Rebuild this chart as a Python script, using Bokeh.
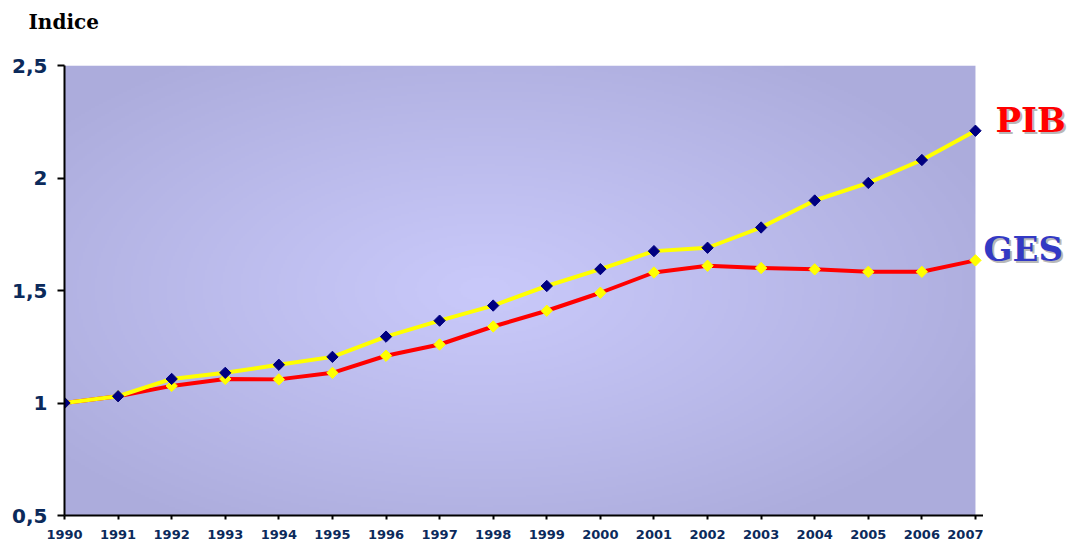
import numpy as np
from bokeh.plotting import figure
from bokeh.layouts import row, column
from bokeh.models import FixedTicker, Range1d
from bokeh.core.properties import value
from bokeh.embed import file_html
from bokeh.resources import INLINE

# ---- data ----
years = list(range(1990, 2008))
pib = [1.00, 1.03, 1.107, 1.134, 1.17, 1.205, 1.295, 1.366, 1.433, 1.52,
       1.595, 1.675, 1.69, 1.78, 1.90, 1.978, 2.08, 2.21]
ges = [1.00, 1.03, 1.076, 1.107, 1.105, 1.134, 1.21, 1.26, 1.34, 1.41,
       1.49, 1.58, 1.61, 1.60, 1.594, 1.583, 1.583, 1.634]
y_ticks = [0.5, 1, 1.5, 2, 2.5]
y_tick_labels = ["0,5", "1", "1,5", "2", "2,5"]
x_tick_labels = [str(y) for y in years]
series_names = ["PIB", "GES"]
series_label_colors = ["#FF0000", "#3339C4"]
y_title = "Indice"

NAVY = "#0B2A5B"
HEAD = 44
TOP, BOTTOM = 65 - HEAD, 30
H = 545 - HEAD
W_MAIN, W_SIDE = 983, 84


def bare(fig):
    fig.axis.visible = False
    fig.grid.visible = False
    fig.outline_line_color = None
    fig.background_fill_color = "white"
    fig.border_fill_color = "white"


# ---- header with "Indice" ----
head = figure(width=W_MAIN + W_SIDE, height=HEAD, output_backend="svg",
              toolbar_location=None, x_range=Range1d(0, W_MAIN + W_SIDE),
              y_range=Range1d(0, HEAD), min_border=0)
bare(head)
head.text(x=[28], y=[HEAD - 21], text=[y_title], text_font=value("DejaVu Serif"),
          text_font_style="bold", text_font_size="20px", text_color="black",
          text_baseline="middle")

# ---- main plot ----
yr = Range1d(y_ticks[0], y_ticks[-1])
p = figure(width=W_MAIN, height=H, output_backend="svg", toolbar_location=None,
           x_range=Range1d(years[0], years[-1] + 0.15), y_range=yr,
           min_border_left=64, min_border_right=0,
           min_border_top=TOP, min_border_bottom=BOTTOM)
p.grid.visible = False
p.outline_line_color = None
p.background_fill_color = "white"
p.border_fill_color = "white"

# radial gradient background (plot area)
ny, nx = 225, 456
yy, xx = np.mgrid[0:ny, 0:nx]
cx, cy = 0.46 * nx, 0.5 * ny
d = np.sqrt(((xx - cx) / (nx * 0.6)) ** 2 + ((yy - cy) / (ny * 0.62)) ** 2)
d = np.clip(d, 0, 1) ** 1.1
center = np.array([201, 201, 250])
edge = np.array([172, 172, 220])
img = np.empty((ny, nx), dtype=np.uint32)
view = img.view(dtype=np.uint8).reshape((ny, nx, 4))
for k in range(3):
    view[:, :, k] = (center[k] * (1 - d) + edge[k] * d).astype(np.uint8)
view[:, :, 3] = 255
p.image_rgba(image=[img], x=years[0], y=y_ticks[0],
             dw=years[-1] - years[0], dh=y_ticks[-1] - y_ticks[0])

# series
p.line(years, ges, line_color="#FF0000", line_width=4)
p.scatter(years, ges, marker="square", angle=np.pi / 4, size=8,
          fill_color="#FFFF00", line_color="#FFFF00")
p.line(years, pib, line_color="#FFFF00", line_width=4)
p.scatter(years, pib, marker="square", angle=np.pi / 4, size=8,
          fill_color="#000080", line_color="#000080")

# axes
p.yaxis.ticker = FixedTicker(ticks=y_ticks)
p.yaxis.major_label_overrides = {t: l for t, l in zip(y_ticks, y_tick_labels)}
p.yaxis.major_label_text_font = "DejaVu Sans"
p.yaxis.major_label_text_font_style = "bold"
p.yaxis.major_label_text_font_size = "20px"
p.yaxis.major_label_text_color = NAVY
p.yaxis.major_tick_out = 7
p.yaxis.major_tick_in = 0
p.yaxis.minor_tick_line_color = None
p.yaxis.major_label_standoff = 10
p.yaxis.axis_line_width = 2
p.yaxis.major_tick_line_width = 2

p.xaxis.ticker = FixedTicker(ticks=years)
p.xaxis.major_label_overrides = {y: l for y, l in zip(years, x_tick_labels)}
p.xaxis.major_label_text_font = "DejaVu Sans"
p.xaxis.major_label_text_font_style = "bold"
p.xaxis.major_label_text_font_size = "13px"
p.xaxis.major_label_text_color = NAVY
p.xaxis.major_tick_out = 4
p.xaxis.major_tick_in = 0
p.xaxis.minor_tick_line_color = None
p.xaxis.major_label_standoff = 10
p.xaxis.axis_line_width = 2
p.xaxis.major_tick_line_width = 2

# ---- side panel with series names ----
side = figure(width=W_SIDE, height=H, output_backend="svg", toolbar_location=None,
              x_range=Range1d(0, W_SIDE), y_range=yr,
              min_border_left=0, min_border_right=0,
              min_border_top=TOP, min_border_bottom=BOTTOM)
bare(side)

end_vals = [pib[-1], ges[-1]]
x_offs = [12, 0]
for name, yv, xo, col in zip(series_names, end_vals, x_offs, series_label_colors):
    side.text(x=[xo + 2], y=[yv], text=[name], y_offset=-9,
              text_font=value("DejaVu Serif"), text_font_style="bold",
              text_font_size="34px", text_color="#B8B8B8",
              text_baseline="alphabetic")
    side.text(x=[xo], y=[yv], text=[name], y_offset=-11,
              text_font=value("DejaVu Serif"), text_font_style="bold",
              text_font_size="34px", text_color=col,
              text_baseline="alphabetic")

layout = column(head, row(p, side, spacing=0), spacing=0)
open("out.html", "w").write(file_html(layout, INLINE))
